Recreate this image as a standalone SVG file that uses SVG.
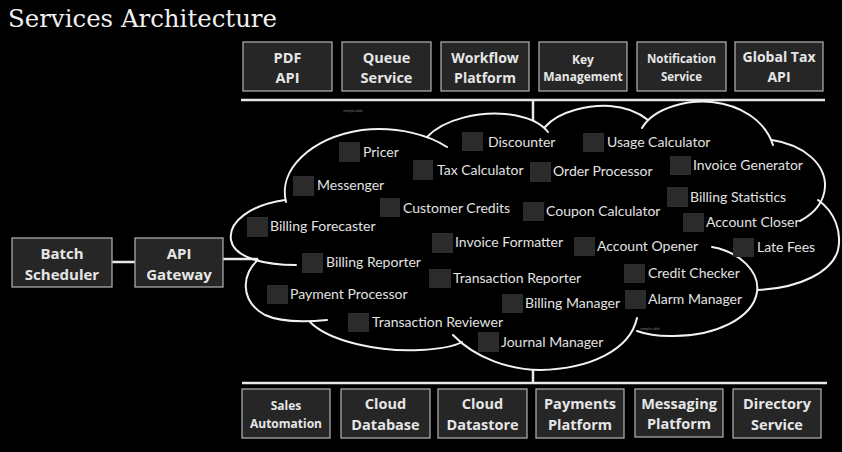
<svg xmlns="http://www.w3.org/2000/svg" width="842" height="452" viewBox="0 0 842 452">
<style>
.box{fill:#262626;stroke:#a8a8a8;stroke-width:1.3}
.bt{font-family:"Open Sans","DejaVu Sans",sans-serif;font-weight:bold;fill:#e6e6e6;text-anchor:middle}
.sq{fill:#2b2b2b}
.st{font-family:Lato,"Liberation Sans",sans-serif;font-size:14px;fill:#e2e2e2}
.cl{fill:none;stroke:#f2f2f2;stroke-width:2;stroke-linecap:round}
.ln{stroke:#e8e8e8;stroke-width:2.5;fill:none}
.wm{font-family:"Liberation Sans",sans-serif;font-size:4px;fill:#777}
</style>
<rect x="0" y="0" width="842" height="452" fill="#000"/>
<text x="8" y="27" font-family="DejaVu Serif,serif" font-size="25" fill="#efefef" textLength="269" lengthAdjust="spacingAndGlyphs">Services Architecture</text>

<g id="connectors">
<path class="ln" d="M241 100 H825 M533 100 V121"/>
<path class="ln" d="M242 383 H827 M533 370 V383"/>
<path class="ln" d="M112 262 H135"/>
<path class="ln" d="M223 259 H258"/>
</g>

<g id="cloud">
<path class="cl" d="M286 202 C278 170 310 138 362 130 C400 126 430 136 447 147"/>
<path class="cl" d="M427 137 C445 118 480 112 505 114 C525 116 540 122 548 132"/>
<path class="cl" d="M545 127 C560 110 590 105 610 106 C625 107 638 112 648 120"/>
<path class="cl" d="M642 128 C655 106 690 100 712 102 C740 105 765 120 773 145"/>
<path class="cl" d="M772 140 C805 145 826 165 825 187 C824 202 815 213 800 221"/>
<path class="cl" d="M818 200 C835 212 842 232 838 250 C832 272 800 288 758 290"/>
<path class="cl" d="M712 247 C740 252 760 272 757 292 C753 318 715 337 670 336 C655 336 645 334 637 331"/>
<path class="cl" d="M453 335 C475 358 510 370 540 370 C590 369 630 350 637 318"/>
<path class="cl" d="M310 322 C330 342 380 352 420 350 C440 349 455 346 462 342"/>
<path class="cl" d="M258 260 C243 272 238 300 265 315 C280 322 305 322 327 320"/>
<path class="cl" d="M285 200 C250 205 228 222 231 240 C234 258 265 265 296 265"/>
</g>
<text class="wm" x="343" y="112">simplicable</text>
<text class="wm" x="640" y="330">simplicable</text>

<g id="pdf-api"><rect class="box" x="243" y="42" width="89" height="49"/><text class="bt" font-size="14.5" x="287.5" y="63">PDF</text><text class="bt" font-size="14.5" x="287.5" y="83">API</text></g>
<g id="queue-service"><rect class="box" x="342" y="42" width="89" height="49"/><text class="bt" font-size="14.5" x="386.5" y="63">Queue</text><text class="bt" font-size="14.5" x="386.5" y="83">Service</text></g>
<g id="workflow-platform"><rect class="box" x="441" y="42" width="88" height="49"/><text class="bt" font-size="14" x="485" y="63">Workflow</text><text class="bt" font-size="14" x="485" y="83">Platform</text></g>
<g id="key-management"><rect class="box" x="539" y="42" width="88" height="49"/><text class="bt" font-size="12" x="583" y="64">Key</text><text class="bt" font-size="12" x="583" y="81">Management</text></g>
<g id="notification-service"><rect class="box" x="637" y="42" width="89" height="49"/><text class="bt" font-size="11.5" x="681.5" y="63">Notification</text><text class="bt" font-size="11.5" x="681.5" y="81">Service</text></g>
<g id="global-tax-api"><rect class="box" x="735" y="42" width="88" height="49"/><text class="bt" font-size="14" x="779" y="62">Global Tax</text><text class="bt" font-size="14" x="779" y="82">API</text></g>

<g id="sales-automation"><rect class="box" x="242" y="389" width="88" height="49"/><text class="bt" font-size="12" x="286" y="410">Sales</text><text class="bt" font-size="12" x="286" y="428">Automation</text></g>
<g id="cloud-database"><rect class="box" x="341" y="389" width="89" height="49"/><text class="bt" font-size="14.5" x="385.5" y="409">Cloud</text><text class="bt" font-size="14.5" x="385.5" y="430">Database</text></g>
<g id="cloud-datastore"><rect class="box" x="438" y="389" width="89" height="49"/><text class="bt" font-size="14.5" x="482.5" y="409">Cloud</text><text class="bt" font-size="14.5" x="482.5" y="430">Datastore</text></g>
<g id="payments-platform"><rect class="box" x="536" y="389" width="88" height="49"/><text class="bt" font-size="14.5" x="580" y="409">Payments</text><text class="bt" font-size="14.5" x="580" y="430">Platform</text></g>
<g id="messaging-platform"><rect class="box" x="635" y="389" width="88" height="48"/><text class="bt" font-size="14.5" x="679" y="409">Messaging</text><text class="bt" font-size="14.5" x="679" y="429">Platform</text></g>
<g id="directory-service"><rect class="box" x="733" y="389" width="88" height="49"/><text class="bt" font-size="14.5" x="777" y="409">Directory</text><text class="bt" font-size="14.5" x="777" y="430">Service</text></g>

<g id="batch-scheduler"><rect class="box" x="12" y="238" width="100" height="49"/><text class="bt" font-size="15" x="62" y="259">Batch</text><text class="bt" font-size="15" x="62" y="280">Scheduler</text></g>
<g id="api-gateway"><rect class="box" x="135" y="238" width="88" height="49"/><text class="bt" font-size="15" x="179" y="259">API</text><text class="bt" font-size="15" x="179" y="280">Gateway</text></g>

<g id="pricer"><rect class="sq" x="339" y="142" width="21" height="20"/><text class="st" x="363" y="157">Pricer</text></g>
<g id="messenger"><rect class="sq" x="293" y="176" width="21" height="20"/><text class="st" x="317" y="190">Messenger</text></g>
<g id="billing-forecaster"><rect class="sq" x="247" y="217" width="21" height="20"/><text class="st" x="270" y="231">Billing Forecaster</text></g>
<g id="billing-reporter"><rect class="sq" x="302" y="253" width="21" height="20"/><text class="st" x="326" y="267">Billing Reporter</text></g>
<g id="customer-credits"><rect class="sq" x="380" y="198" width="20" height="19"/><text class="st" x="403" y="213">Customer Credits</text></g>
<g id="tax-calculator"><rect class="sq" x="413" y="160" width="20" height="20"/><text class="st" x="437" y="175">Tax Calculator</text></g>
<g id="discounter"><rect class="sq" x="462" y="132" width="21" height="19"/><text class="st" x="488" y="147">Discounter</text></g>
<g id="usage-calculator"><rect class="sq" x="583" y="133" width="21" height="19"/><text class="st" x="607" y="147">Usage Calculator</text></g>
<g id="order-processor"><rect class="sq" x="530" y="162" width="21" height="20"/><text class="st" x="553" y="176">Order Processor</text></g>
<g id="invoice-generator"><rect class="sq" x="670" y="156" width="21" height="19"/><text class="st" x="693" y="170">Invoice Generator</text></g>
<g id="billing-statistics"><rect class="sq" x="667" y="187" width="21" height="20"/><text class="st" x="690" y="202">Billing Statistics</text></g>
<g id="coupon-calculator"><rect class="sq" x="523" y="202" width="21" height="19"/><text class="st" x="546" y="216">Coupon Calculator</text></g>
<g id="account-closer"><rect class="sq" x="683" y="213" width="21" height="19"/><text class="st" x="706" y="227">Account Closer</text></g>
<g id="invoice-formatter"><rect class="sq" x="432" y="233" width="21" height="20"/><text class="st" x="455" y="247">Invoice Formatter</text></g>
<g id="account-opener"><rect class="sq" x="574" y="237" width="21" height="19"/><text class="st" x="597" y="251">Account Opener</text></g>
<g id="late-fees"><rect class="sq" x="733" y="238" width="21" height="19"/><text class="st" x="757" y="252">Late Fees</text></g>
<g id="transaction-reporter"><rect class="sq" x="429" y="269" width="22" height="19"/><text class="st" x="453" y="283">Transaction Reporter</text></g>
<g id="credit-checker"><rect class="sq" x="624" y="264" width="21" height="19"/><text class="st" x="648" y="278">Credit Checker</text></g>
<g id="payment-processor"><rect class="sq" x="267" y="285" width="21" height="19"/><text class="st" x="290" y="299">Payment Processor</text></g>
<g id="transaction-reviewer"><rect class="sq" x="348" y="313" width="21" height="19"/><text class="st" x="372" y="327">Transaction Reviewer</text></g>
<g id="billing-manager"><rect class="sq" x="502" y="294" width="21" height="19"/><text class="st" x="525" y="308">Billing Manager</text></g>
<g id="alarm-manager"><rect class="sq" x="625" y="290" width="21" height="19"/><text class="st" x="648" y="304">Alarm Manager</text></g>
<g id="journal-manager"><rect class="sq" x="478" y="332" width="21" height="20"/><text class="st" x="501" y="347">Journal Manager</text></g>
</svg>
